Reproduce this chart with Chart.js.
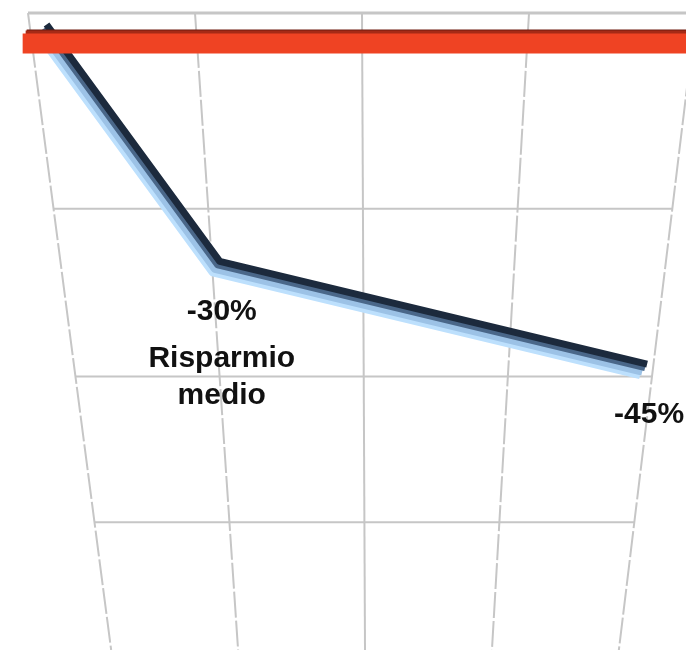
<!DOCTYPE html>
<html><head><meta charset="utf-8">
<script src="https://cdn.jsdelivr.net/npm/chart.js@4.4.0/dist/chart.umd.min.js"></script>
<style>html,body{margin:0;padding:0;background:#fff;}#wrap{width:686px;height:650px;position:relative;}</style>
</head><body><div id="wrap"><canvas id="c" width="686" height="650"></canvas></div>
<script>
// ---- data ----
const savingX = [0.08, 1.03, 3.94];
const savingValues = [0, -30, -45];
const baselineX = [-0.04, 4.3];
const baselineValues = [0, 0];
const pointLabels = [[], ["-30%", "Risparmio", "medio"], ["-45%"]];
const xGridValues = [0, 1, 2, 3, 4];
const yGridValues = [2, -22, -46, -70];

// ---- perspective value scale ----
class PerspectiveScale extends Chart.LinearScale {
  getPixelForValue(value) {
    if (value === null || value === undefined || isNaN(value)) return NaN;
    const k = this.options.perspective || 0;
    const t = (this.max - value) / (this.max - this.min);
    const g = t * (1 + k) / (1 + k * t);
    return this.top + g * (this.bottom - this.top);
  }
  getValueForPixel(pixel) {
    const k = this.options.perspective || 0;
    const g = (pixel - this.top) / (this.bottom - this.top);
    const t = g / (1 + k - g * k);
    return this.max - t * (this.max - this.min);
  }
}
PerspectiveScale.id = 'perspective';
PerspectiveScale.defaults = Chart.LinearScale.defaults;
Chart.register(PerspectiveScale);

const toXY = (xs, ys) => xs.map((x, i) => ({x: x, y: ys[i]}));
const gridCenter = (xGridValues[0] + xGridValues[xGridValues.length - 1]) / 2;

function projector(chart, opts) {
  const xs = chart.scales.x, ys = chart.scales.y;
  const cx0 = xs.getPixelForValue(gridCenter);
  return (xPix, y) => {
    const f = (y - ys.top) / (ys.bottom - ys.top);
    const s = 1 - opts.shrink * f;
    const cx = cx0 + opts.drift * f;
    return cx + (xPix - cx0) * s;
  };
}

const perspPlugin = {
  id: 'persp',
  afterDatasetsUpdate(chart, args, opts) {
    const proj = projector(chart, opts);
    chart.data.datasets.forEach((ds, i) => {
      const meta = chart.getDatasetMeta(i);
      const sh = ds.depthShift || {x: 0, y: 0};
      meta.data.forEach(pt => {
        pt.x = proj(pt.x, pt.y) + sh.x;
        pt.y = pt.y + sh.y;
      });
      if (meta.dataset) { delete meta.dataset._path; delete meta.dataset._segments; }
    });
  },
  beforeDatasetsDraw(chart, args, opts) {
    const ctx = chart.ctx, xs = chart.scales.x, ys = chart.scales.y;
    const proj = projector(chart, opts);
    const px = (xv, y) => proj(xs.getPixelForValue(xv), y);
    ctx.save();
    ctx.strokeStyle = opts.gridColor;
    const yTop = ys.getPixelForValue(yGridValues[0]);
    const yBot = ys.bottom;
    xGridValues.forEach(xv => {
      const x1 = px(xv, yTop), x2 = px(xv, yBot);
      ctx.setLineDash(Math.abs(x1 - x2) > 8 ? [26, 3] : []);
      ctx.lineWidth = 2;
      ctx.beginPath(); ctx.moveTo(x1, yTop); ctx.lineTo(x2, yBot); ctx.stroke();
    });
    ctx.setLineDash([]);
    yGridValues.forEach((yv, i) => {
      const y = ys.getPixelForValue(yv);
      ctx.lineWidth = i === 0 ? 3 : 2;
      ctx.beginPath();
      ctx.moveTo(px(xGridValues[0], y), y);
      ctx.lineTo(px(xGridValues[xGridValues.length - 1], y), y);
      ctx.stroke();
    });
    ctx.restore();
  },
  afterDatasetsDraw(chart, args, opts) {
    const ctx = chart.ctx;
    const meta = chart.getDatasetMeta(opts.labelDataset);
    ctx.save();
    ctx.fillStyle = '#111';
    ctx.font = opts.labelFont;
    ctx.textAlign = 'center';
    ctx.textBaseline = 'alphabetic';
    meta.data.forEach((pt, i) => {
      (pointLabels[i] || []).forEach((txt, j) => {
        ctx.fillText(txt, pt.x + opts.labelDx, pt.y + opts.labelBaselines[j]);
      });
    });
    ctx.restore();
  }
};

const common = {pointRadius: 0, pointHoverRadius: 0, tension: 0, fill: false, clip: false,
                borderCapStyle: 'butt', borderJoinStyle: 'round'};
const line = (label, xs, ys, color, width, shift) =>
  Object.assign({label: label, data: toXY(xs, ys), borderColor: color, borderWidth: width, depthShift: shift}, common);

new Chart(document.getElementById('c'), {
  type: 'line',
  data: {
    datasets: [
      line('Baseline', baselineX, baselineValues, '#EF4323', 20, {x: -1, y: 13}),
      line('Baseline top', baselineX, baselineValues, '#A52A16', 20, {x: 2, y: 10}),
      line('Baseline edge', baselineX, baselineValues, '#6E1A0E', 20, {x: 3, y: 9}),
      line('Risparmio dark', savingX, savingValues, '#1C2A3D', 7, {x: 3, y: -6}),
      line('Risparmio mid', savingX, savingValues, '#4A6789', 7, {x: 1, y: -2.5}),
      line('Risparmio mid2', savingX, savingValues, '#9CC2E6', 7, {x: -2, y: 2}),
      line('Risparmio light', savingX, savingValues, '#BDE0FD', 8, {x: -4, y: 5})
    ]
  },
  options: {
    responsive: false,
    animation: false,
    devicePixelRatio: 1,
    layout: {padding: {left: 28, right: 0, top: 13, bottom: 0}},
    scales: {
      x: {type: 'linear', min: 0, max: 3.94, display: false},
      y: {type: 'perspective', min: -94, max: 2, perspective: 0.33, display: false}
    },
    plugins: {
      legend: {display: false},
      tooltip: {enabled: false},
      title: {display: false},
      persp: {shrink: 0.24, drift: 3, gridColor: '#C6C6C6', labelDataset: 4,
              labelFont: 'bold 30px "Liberation Sans", Arial, sans-serif',
              labelDx: 4, labelBaselines: [55, 102, 139]}
    }
  },
  plugins: [perspPlugin]
});
</script>
</body></html>
